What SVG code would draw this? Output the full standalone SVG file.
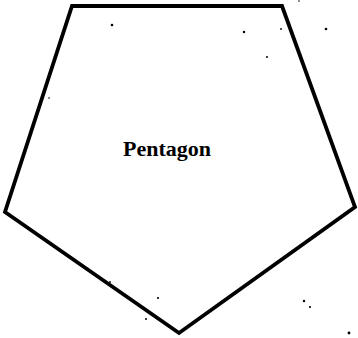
<svg xmlns="http://www.w3.org/2000/svg" width="358" height="338" viewBox="0 0 358 338">
<style>
.shape{fill:#fff;stroke:#000;stroke-width:3.8;stroke-linejoin:miter}
.label{font-family:"Liberation Serif","Times New Roman",serif;font-weight:bold;font-size:22px;fill:#000}
.speck{fill:#000}
</style>
<rect width="358" height="338" fill="#fff"/>
<g id="pentagon">
<polygon class="shape" points="72,6 282,6 355,207 179,333 5,212"/>
<text class="label" x="123" y="156">Pentagon</text>
</g>
<g id="specks">
<circle class="speck" cx="112" cy="25" r="1.3"/>
<circle class="speck" cx="244" cy="32" r="1.2"/>
<circle class="speck" cx="281" cy="29" r="0.9"/>
<circle class="speck" cx="267" cy="57" r="1"/>
<circle class="speck" cx="326" cy="29" r="1.3"/>
<circle class="speck" cx="299" cy="1" r="0.8"/>
<circle class="speck" cx="49" cy="98" r="0.8"/>
<circle class="speck" cx="110" cy="282" r="0.9"/>
<circle class="speck" cx="158" cy="298" r="1.1"/>
<circle class="speck" cx="148" cy="311" r="0.8"/>
<circle class="speck" cx="146" cy="319" r="1"/>
<circle class="speck" cx="304" cy="301" r="1.2"/>
<circle class="speck" cx="310" cy="307" r="1.1"/>
<circle class="speck" cx="349" cy="333" r="1.4"/>
</g>
</svg>
